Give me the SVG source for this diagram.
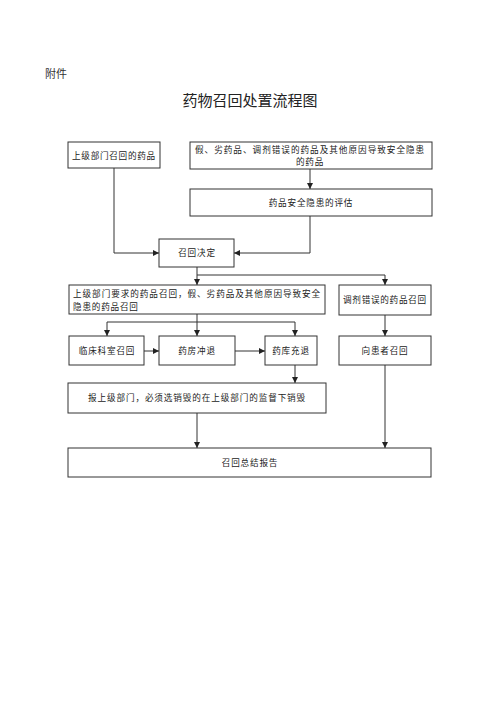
<svg xmlns="http://www.w3.org/2000/svg" width="500" height="707" viewBox="0 0 500 707">
<defs>
<marker id="ah" viewBox="0 0 6 6" refX="6" refY="3" markerWidth="6" markerHeight="6" orient="auto" markerUnits="userSpaceOnUse">
<path d="M0,0 L6,3 L0,6 z" fill="#222"/>
</marker>
</defs>
<style>
.box{fill:#fff;stroke:#333;stroke-width:1}
.t{font-family:"Liberation Serif","Noto Sans CJK SC",serif;font-size:8.6px;fill:#222;letter-spacing:0.8px}
.c{stroke:#333;stroke-width:1;fill:none}
.a{marker-end:url(#ah)}
</style>
<rect width="500" height="707" fill="#fff"/>
<text x="45" y="78" style="font-family:'Liberation Serif','Noto Sans CJK SC',serif;font-size:11px;fill:#333">附件</text>
<text x="250" y="106" text-anchor="middle" style="font-family:'Liberation Serif','Noto Sans CJK SC',serif;font-size:15px;fill:#222">药物召回处置流程图</text>

<g id="connectors">
<path class="c a" d="M310,169 V189"/>
<path class="c a" d="M114,168 V253 H159"/>
<path class="c a" d="M310,216 V253 H234"/>
<path class="c" d="M197,267 V275"/>
<path class="c a" d="M197,275 V285"/>
<path class="c a" d="M197,275 H385 V285"/>
<path class="c" d="M197,314 V322"/>
<path class="c a" d="M197,322 V336"/>
<path class="c a" d="M197,322 H107 V336"/>
<path class="c a" d="M197,322 H295 V336"/>
<path class="c a" d="M385,315 V336"/>
<path class="c a" d="M144,351 H159"/>
<path class="c a" d="M235,351 H265"/>
<path class="c a" d="M295,365 V383"/>
<path class="c a" d="M197,413 V448"/>
<path class="c a" d="M385,365 V448"/>
</g>

<g id="n1"><rect class="box" x="68" y="142" width="92" height="26"/><text class="t" x="72" y="158.5" textLength="84" lengthAdjust="spacing">上级部门召回的药品</text></g>
<g id="n2"><rect class="box" x="190" y="142" width="242" height="27"/><text class="t" x="195" y="153" textLength="230" lengthAdjust="spacing">假、劣药品、调剂错误的药品及其他原因导致安全隐患</text><text class="t" x="310" y="165" text-anchor="middle">的药品</text></g>
<g id="n3"><rect class="box" x="190" y="189" width="242" height="27"/><text class="t" x="311" y="205.5" text-anchor="middle">药品安全隐患的评估</text></g>
<g id="n4"><rect class="box" x="159" y="239" width="75" height="28"/><text class="t" x="197" y="256" text-anchor="middle">召回决定</text></g>
<g id="n5"><rect class="box" x="69" y="285" width="256" height="29"/><text class="t" x="73" y="297" textLength="248" lengthAdjust="spacing">上级部门要求的药品召回，假、劣药品及其他原因导致安全</text><text class="t" x="73" y="310">隐患的药品召回</text></g>
<g id="n6"><rect class="box" x="339" y="285" width="92" height="30"/><text class="t" x="343" y="303" textLength="84" lengthAdjust="spacing">调剂错误的药品召回</text></g>
<g id="n7"><rect class="box" x="69" y="336" width="75" height="29"/><text class="t" x="107" y="354" text-anchor="middle">临床科室召回</text></g>
<g id="n8"><rect class="box" x="159" y="336" width="76" height="29"/><text class="t" x="197" y="354" text-anchor="middle">药房冲退</text></g>
<g id="n9"><rect class="box" x="265" y="336" width="52" height="29"/><text class="t" x="291" y="354" text-anchor="middle">药库充退</text></g>
<g id="n10"><rect class="box" x="339" y="336" width="92" height="29"/><text class="t" x="385" y="354" text-anchor="middle">向患者召回</text></g>
<g id="n11"><rect class="box" x="68" y="383" width="258" height="30"/><text class="t" x="88" y="401" textLength="218" lengthAdjust="spacing">报上级部门，必须选销毁的在上级部门的监督下销毁</text></g>
<g id="n12"><rect class="box" x="68" y="448" width="363" height="29"/><text class="t" x="250" y="466" text-anchor="middle">召回总结报告</text></g>
</svg>
